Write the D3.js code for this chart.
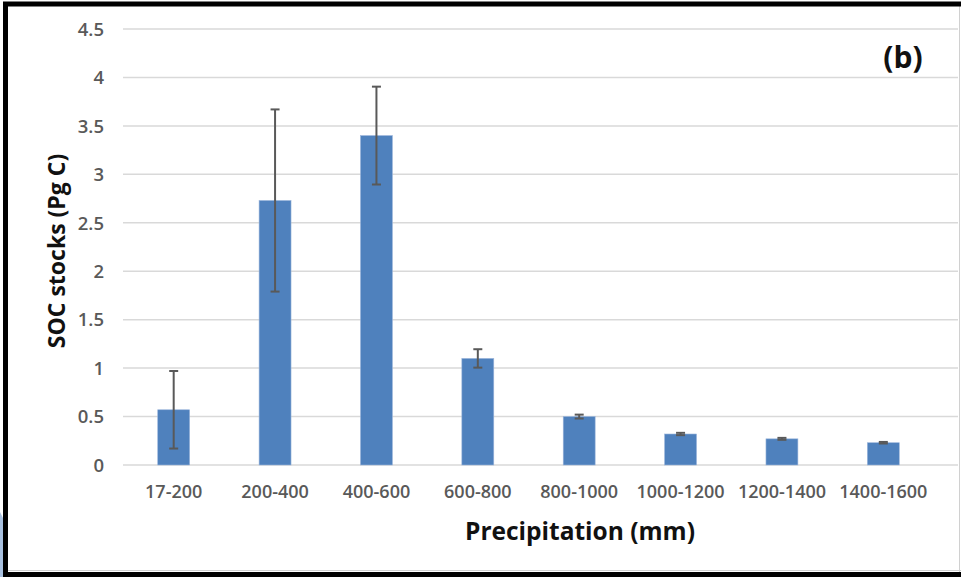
<!DOCTYPE html>
<html>
<head>
<meta charset="utf-8">
<script src="https://cdn.jsdelivr.net/npm/d3@7"></script>
<style>
  html, body { margin: 0; padding: 0; background: #ffffff; }
  svg { display: block; }
</style>
</head>
<body>
<svg id="chart" width="961" height="577"></svg>
<script>
const categories = ["17-200","200-400","400-600","600-800","800-1000","1000-1200","1200-1400","1400-1600"];
const values = [0.57, 2.73, 3.40, 1.10, 0.50, 0.32, 0.27, 0.23];
const errors = [0.40, 0.94, 0.505, 0.095, 0.02, 0.012, 0.01, 0.008];
const yTicks = [0, 0.5, 1, 1.5, 2, 2.5, 3, 3.5, 4, 4.5];
const yTickLabels = ["0","0.5","1","1.5","2","2.5","3","3.5","4","4.5"];
const xTitle = "Precipitation (mm)";
const yTitle = "SOC stocks (Pg C)";
const panelLabel = "(b)";

const svg = d3.select("#chart");
const W = 961, H = 577;
const font = "'Open Sans', 'Noto Sans', sans-serif";

svg.append("rect").attr("width", W).attr("height", H).attr("fill", "#ffffff");

// faint blue smear at lower-left outside the frame
svg.append("path")
  .attr("d", "M0,512 L3,518 L3,577 L0,577 Z")
  .attr("fill", "#a9c1e0");

const x = d3.scaleBand().domain(categories).range([123, 934]).paddingInner(0.685).paddingOuter(0.3425);
const y = d3.scaleLinear().domain([0, 4.5]).range([465, 29]);

// gridlines
svg.append("g").selectAll("line").data(yTicks).join("line")
  .attr("x1", 123).attr("x2", 958)
  .attr("y1", d => y(d)).attr("y2", d => y(d))
  .attr("stroke", "#d9d9d9").attr("stroke-width", 1.5);

// y axis labels via d3 axis
const yAxis = d3.axisLeft(y).tickValues(yTicks).tickFormat((d, i) => yTickLabels[i]).tickSize(0).tickPadding(0);
const gy = svg.append("g").attr("transform", "translate(104,0)").call(yAxis);
gy.select(".domain").remove();
gy.selectAll("text").attr("font-family", font).attr("font-size", 18.5).attr("font-weight", 600).attr("fill", "#595959").attr("dy", "0.34em");

// x axis labels
const xAxis = d3.axisBottom(x).tickSize(0).tickPadding(0);
const gx = svg.append("g").attr("transform", "translate(0,485)").call(xAxis);
gx.select(".domain").remove();
gx.selectAll("text").attr("font-family", font).attr("font-size", 18).attr("font-weight", 600).attr("fill", "#595959").attr("dy", "0.71em");

// bars
svg.append("g").selectAll("rect").data(categories).join("rect")
  .attr("x", d => x(d)).attr("width", x.bandwidth())
  .attr("y", (d, i) => y(values[i]))
  .attr("height", (d, i) => y(0) - y(values[i]))
  .attr("fill", "#4f81bd")
  .attr("stroke", "#9bb5db").attr("stroke-width", 0.6);

// error bars
const eg = svg.append("g").attr("stroke", "#595959").attr("stroke-width", 2);
categories.forEach((c, i) => {
  const cx = x(c) + x.bandwidth() / 2;
  const top = y(values[i] + errors[i]), bot = y(values[i] - errors[i]);
  eg.append("line").attr("x1", cx).attr("x2", cx).attr("y1", top).attr("y2", bot);
  eg.append("line").attr("x1", cx - 4.5).attr("x2", cx + 4.5).attr("y1", top).attr("y2", top);
  eg.append("line").attr("x1", cx - 4.5).attr("x2", cx + 4.5).attr("y1", bot).attr("y2", bot);
});

// titles
svg.append("text").attr("x", 580).attr("y", 540).attr("text-anchor", "middle")
  .attr("font-family", font).attr("font-weight", "bold").attr("font-size", 24.5)
  .attr("fill", "#111").text(xTitle);

svg.append("text").attr("transform", "translate(65,251) rotate(-90)").attr("text-anchor", "middle")
  .attr("font-family", font).attr("font-weight", "bold").attr("font-size", 23)
  .attr("fill", "#111").text(yTitle);

svg.append("text").attr("x", 903).attr("y", 68).attr("text-anchor", "middle")
  .attr("font-family", font).attr("font-weight", "bold").attr("font-size", 30)
  .attr("fill", "#111").text(panelLabel);

// frame
svg.append("line").attr("x1", 959.5).attr("x2", 959.5).attr("y1", 6).attr("y2", 573).attr("stroke", "#d0d0d0").attr("stroke-width", 1);
svg.append("line").attr("x1", 8).attr("x2", 961).attr("y1", 570.5).attr("y2", 570.5).attr("stroke", "#d0d0d0").attr("stroke-width", 1);
svg.append("path").attr("d", "M961,4 L5.5,4 L5.5,574.5 L961,574.5")
  .attr("fill", "none").attr("stroke", "#000").attr("stroke-width", 5);
</script>
</body>
</html>
